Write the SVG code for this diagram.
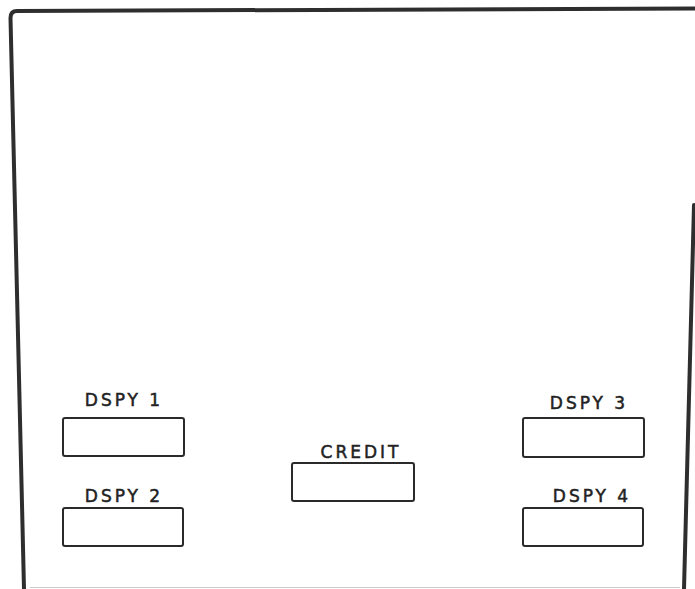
<svg xmlns="http://www.w3.org/2000/svg" width="695" height="589" viewBox="0 0 695 589">
<style>
.frame{fill:none;stroke:#2e2e2e;stroke-width:4;stroke-linecap:round;stroke-linejoin:round}
.box{fill:#fff;stroke:#2a2a2a;stroke-width:2}
.lbl{font-family:"DejaVu Sans","Liberation Sans",sans-serif;font-size:17px;fill:#222;stroke:#222;stroke-width:0.5;text-anchor:middle;letter-spacing:3px}
</style>
<rect width="695" height="589" fill="#fff"/>
<g id="frame">
<path class="frame" d="M 24 589 L 10.5 18 Q 10.5 11 17 11 L 695 8.5"/>
<path class="frame" d="M 694 205 L 684 589"/>
<path d="M 30 587.5 L 680 587.5" stroke="#ccc" stroke-width="1" fill="none"/>
</g>
<g id="dspy1">
<text class="lbl" x="124" y="406">DSPY 1</text>
<rect class="box" x="63" y="418" width="121" height="38" rx="2"/>
</g>
<g id="dspy2">
<text class="lbl" x="124" y="502">DSPY 2</text>
<rect class="box" x="63" y="508" width="120" height="38" rx="2"/>
</g>
<g id="credit">
<text class="lbl" x="361" y="458">CREDIT</text>
<rect class="box" x="292" y="463" width="122" height="38" rx="2"/>
</g>
<g id="dspy3">
<text class="lbl" x="589" y="409">DSPY 3</text>
<rect class="box" x="523" y="418" width="121" height="39" rx="2"/>
</g>
<g id="dspy4">
<text class="lbl" x="592" y="502">DSPY 4</text>
<rect class="box" x="523" y="508" width="120" height="38" rx="2"/>
</g>
<g id="connectors"></g>
</svg>
